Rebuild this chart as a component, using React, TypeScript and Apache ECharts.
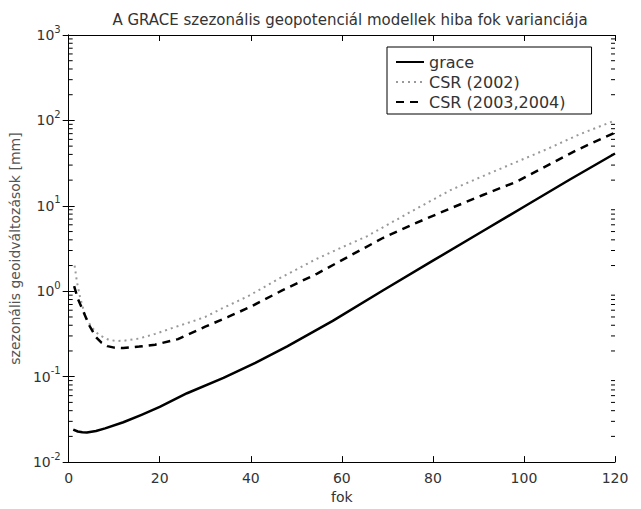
import React, { useEffect, useRef } from "react";
import * as echarts from "echarts";

const titleText = "A GRACE szezonális geopotenciál modellek hiba fok varianciája";
const xName = "fok";
const yName = "szezonális geoidváltozások [mm]";
const seriesNames = ["grace", "CSR (2002)", "CSR (2003,2004)"];

const graceX = [1, 2, 3, 4, 6, 8, 12, 16, 20, 26, 34, 41, 48, 58, 69, 80, 91, 100, 110, 120];
const graceY = [0.024, 0.0228, 0.0223, 0.0222, 0.0231, 0.0248, 0.0293, 0.0358, 0.0443, 0.064, 0.097, 0.145, 0.226, 0.45, 1.02, 2.28, 5.07, 9.75, 20.2, 41];

const csr2002X = [1.3, 1.8, 2.5, 3.7, 5, 6.6, 8.8, 10.5, 12, 15.5, 19, 22.7, 26.4, 30, 33.7, 39.5, 46, 54.5, 60, 65.5, 75, 84, 91, 98.4, 105, 112, 120];
const csr2002Y = [2.0, 1.3, 0.85, 0.5, 0.38, 0.31, 0.27, 0.262, 0.263, 0.28, 0.317, 0.37, 0.43, 0.5, 0.63, 0.88, 1.39, 2.4, 3.26, 4.4, 8.45, 15.4, 22.3, 32.7, 46, 68, 100];

const csr0304X = [1.2, 2, 3.4, 4.5, 6, 7.2, 8.5, 10, 12, 15.5, 19, 24, 30, 35, 40, 47, 54.5, 62, 69, 76, 84, 91, 98.4, 105, 111.5, 120];
const csr0304Y = [1.15, 0.82, 0.55, 0.4, 0.29, 0.25, 0.228, 0.219, 0.216, 0.225, 0.237, 0.275, 0.385, 0.5, 0.66, 1.03, 1.6, 2.64, 4.2, 6.2, 9.4, 13.4, 19.2, 29.4, 44.7, 72];

const xTicks = [0, 20, 40, 60, 80, 100, 120];
const yDecades = [0.01, 0.1, 1, 10, 100, 1000];
const minorMultipliers = [2, 3, 4, 5, 6, 7, 8, 9];

const FONT = "DejaVu Sans";
const TXT = "#333";

export default function App() {
  const ref = useRef<HTMLDivElement>(null);
  useEffect(() => {
    if (!ref.current) return;
    const chart = echarts.init(ref.current, null, { renderer: "svg" });
    const pairs = (xs: number[], ys: number[]) => xs.map((x, i) => [x, ys[i]]);
    const minorTicks: number[] = [];
    yDecades.slice(0, -1).forEach((d) => minorMultipliers.forEach((m) => minorTicks.push(d * m)));
    const xMin = xTicks[0];
    const xMax = xTicks[xTicks.length - 1];

    const yLabelFmt = (v: number) => {
      const e = Math.round(Math.log10(v));
      return `{b|10}{s|${e}}`;
    };
    const axisLine = { show: true, lineStyle: { color: "#000", width: 1 } };

    chart.setOption({
      animation: false,
      backgroundColor: "#fff",
      title: {
        text: titleText,
        left: 345,
        textAlign: "center",
        top: 7,
        textStyle: { fontFamily: FONT, fontSize: 15, fontWeight: "normal", color: TXT },
      },
      legend: {
        data: seriesNames,
        orient: "vertical",
        left: 387,
        top: 47,
        padding: [7, 26, 4, 8],
        itemGap: 4,
        itemWidth: 28,
        itemHeight: 15,
        backgroundColor: "#fff",
        borderColor: "#000",
        borderWidth: 1,
        borderRadius: 0,
        itemStyle: { opacity: 0 },
        textStyle: { fontFamily: FONT, fontSize: 16, color: TXT },
      },
      grid: { left: 68, right: 26, top: 35, bottom: 42, containLabel: false },
      xAxis: [
        {
          type: "value",
          min: xMin,
          max: xMax,
          interval: 20,
          name: xName,
          nameLocation: "middle",
          nameGap: 26,
          nameTextStyle: { fontFamily: FONT, fontSize: 14, color: TXT },
          axisLine,
          axisTick: { show: true, inside: true, length: 6, lineStyle: { color: "#000" } },
          axisLabel: { fontFamily: FONT, fontSize: 14, color: TXT, margin: 9 },
          splitLine: { show: false },
        },
        {
          type: "value",
          position: "top",
          min: xMin,
          max: xMax,
          interval: 20,
          axisLine,
          axisTick: { show: true, inside: true, length: 6, lineStyle: { color: "#000" } },
          axisLabel: { show: false },
          splitLine: { show: false },
        },
      ],
      yAxis: [
        {
          type: "log",
          logBase: 10,
          min: yDecades[0],
          max: yDecades[yDecades.length - 1],
          name: yName,
          nameLocation: "middle",
          nameGap: 33,
          nameTextStyle: { fontFamily: FONT, fontSize: 14, color: "#555" },
          axisLine,
          axisTick: { show: true, inside: true, length: 6, lineStyle: { color: "#000" } },
          axisLabel: {
            formatter: yLabelFmt,
            margin: 8,
            rich: {
              b: { fontFamily: FONT, fontSize: 14, color: TXT, lineHeight: 22 },
              s: { fontFamily: FONT, fontSize: 10, color: TXT, verticalAlign: "top", lineHeight: 10 },
            },
          },
          splitLine: { show: false },
        },
        {
          type: "log",
          logBase: 10,
          position: "right",
          min: yDecades[0],
          max: yDecades[yDecades.length - 1],
          axisLine,
          axisTick: { show: true, inside: true, length: 6, lineStyle: { color: "#000" } },
          axisLabel: { show: false },
          splitLine: { show: false },
        },
      ],
      series: [
        {
          name: seriesNames[0],
          type: "line",
          data: pairs(graceX, graceY),
          symbol: "none",
          smooth: false,
          lineStyle: { color: "#000", width: 2.5, type: "solid", join: "round" },
          itemStyle: { color: "#000" },
          z: 3,
        },
        {
          name: seriesNames[1],
          type: "line",
          data: pairs(csr2002X, csr2002Y),
          symbol: "none",
          smooth: false,
          lineStyle: { color: "#999", width: 2, type: [2, 4] },
          itemStyle: { color: "#999" },
          z: 3,
        },
        {
          name: seriesNames[2],
          type: "line",
          data: pairs(csr0304X, csr0304Y),
          symbol: "none",
          smooth: false,
          lineStyle: { color: "#000", width: 2.5, type: [8, 6] },
          itemStyle: { color: "#000" },
          z: 3,
        },
        {
          name: "minorTicks",
          type: "custom",
          silent: true,
          clip: false,
          data: minorTicks.map((v) => [xMin, v]),
          renderItem: (_params: any, api: any) => {
            const v = api.value(1);
            const l = api.coord([xMin, v]);
            const r = api.coord([xMax, v]);
            return {
              type: "group",
              children: [
                { type: "line", shape: { x1: l[0], y1: l[1], x2: l[0] + 4, y2: l[1] }, style: { stroke: "#000", lineWidth: 1 } },
                { type: "line", shape: { x1: r[0] - 4, y1: r[1], x2: r[0], y2: r[1] }, style: { stroke: "#000", lineWidth: 1 } },
              ],
            };
          },
          z: 2,
        },
      ],
    });
    return () => chart.dispose();
  }, []);
  return <div ref={ref} style={{ position: "fixed", left: 0, top: 0, width: 641, height: 509 }} />;
}
